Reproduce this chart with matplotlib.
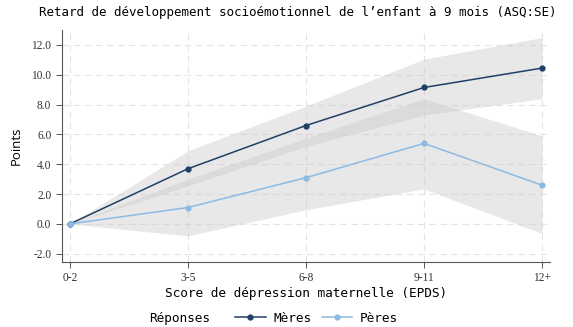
import numpy as np
import matplotlib.pyplot as plt
from matplotlib.lines import Line2D

categories = ["0-2", "3-5", "6-8", "9-11", "12+"]
meres = [0.0, 3.7, 6.6, 9.15, 10.45]
meres_low = [0.0, 2.55, 5.2, 7.3, 8.4]
meres_high = [0.0, 4.9, 7.9, 11.05, 12.5]
peres = [0.0, 1.1, 3.1, 5.4, 2.6]
peres_low = [0.0, -0.8, 0.95, 2.35, -0.65]
peres_high = [0.0, 3.0, 5.75, 8.4, 5.9]
yticks = [-2, 0, 2, 4, 6, 8, 10, 12]

c_meres = "#223f66"
c_peres = "#8bbbe3"
mono = "DejaVu Sans Mono"

fig = plt.figure(figsize=(5.73, 3.27), dpi=100)
ax = fig.add_axes([0.108, 0.199, 0.852, 0.709])

x = np.arange(len(categories))
ax.fill_between(x, meres_low, meres_high, color="#cccccc", alpha=0.45, lw=0)
ax.fill_between(x, peres_low, peres_high, color="#cccccc", alpha=0.45, lw=0)
ax.plot(x, meres, color=c_meres, lw=1.1, marker="o", ms=3.5, zorder=3)
ax.plot(x, peres, color=c_peres, lw=1.1, marker="o", ms=3.5, zorder=3)

ax.set_xlim(-0.068, 4.068)
ax.set_ylim(-2.55, 13.0)
ax.set_xticks(x)
ax.set_xticklabels(categories, family="Liberation Serif", fontsize=8.3)
ax.set_yticks(yticks)
ax.set_yticklabels([f"{v:.1f}" for v in yticks], family="Liberation Serif", fontsize=8.3)
ax.grid(True, color="#e4e4e4", ls=(0, (6, 4)), lw=0.8)
ax.set_axisbelow(True)
for s in ["top", "right"]:
    ax.spines[s].set_visible(False)
for s in ["left", "bottom"]:
    ax.spines[s].set_color("#555555")
    ax.spines[s].set_linewidth(0.8)
ax.tick_params(colors="#555555", labelcolor="#333333", length=4, width=0.7)

ax.set_xlabel("Score de dépression maternelle (EPDS)", family=mono, fontsize=9.2, labelpad=2)
ax.set_ylabel("Points", family="Open Sans", fontsize=9.5, labelpad=6)
fig.text(0.52, 0.963, "Retard de développement socioémotionnel de l\u2019enfant à 9 mois (ASQ:SE)",
         ha="center", va="center", family=mono, fontsize=9.0)

handles = [Line2D([], [], color=c_meres, marker="o", ms=3.5, lw=1.1),
           Line2D([], [], color=c_peres, marker="o", ms=3.5, lw=1.1)]
fig.text(0.26, 0.027, "Réponses", family=mono, fontsize=9.2, va="center", ha="left")
fig.legend(handles, ["Mères", "Pères"], loc="center left", bbox_to_anchor=(0.39, 0.027),
           ncol=2, frameon=False, prop={"family": mono, "size": 9.2},
           handlelength=2.4, columnspacing=0.8, handletextpad=0.6)

fig.savefig("out.png", dpi=100)
